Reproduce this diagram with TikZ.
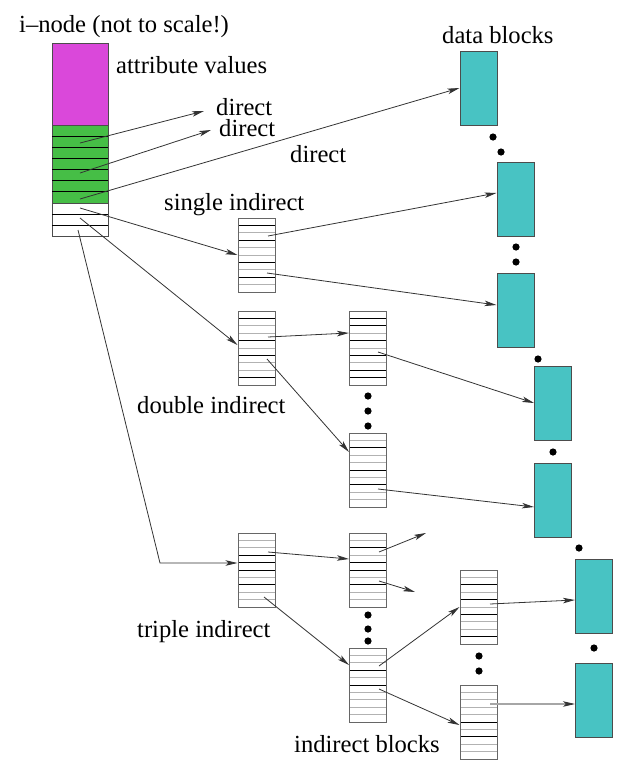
\documentclass[tikz,border=0pt]{standalone}
\usepackage{fontspec}
\setmainfont{Liberation Serif}
\usetikzlibrary{arrows.meta,calc,positioning}
\definecolor{attrcol}{RGB}{218,72,218}
\definecolor{dircol}{RGB}{70,190,70}
\definecolor{blkcol}{RGB}{72,195,195}

\begin{document}
\begin{tikzpicture}[x=1pt, y=-1pt, >={Stealth[length=12pt,width=5.5pt,inset=3pt]}, font=\fontsize{24.6}{28}\selectfont]
		\useasboundingbox (0,0) rectangle (644,774);
		\tikzstyle{dk}=[draw=black]
		\tikzstyle{lt}=[draw=black!30]
		\tikzstyle{label}=[anchor=base west, inner sep=0pt]
		\tikzstyle{slot}=[rectangle, draw=black!70, line width=1pt, minimum width=56pt, inner sep=0pt, outer sep=0pt]
		\tikzstyle{data}=[rectangle, draw=black!70, fill=blkcol, line width=1pt, minimum width=37pt, minimum height=74pt, inner sep=0pt]
		\tikzstyle{connect}=[->, draw=black!80, line width=0.8pt]
		\tikzset{ind/.style={rectangle, draw=black!60, line width=1pt, minimum width=37pt, minimum height=74pt, inner sep=0pt,
			path picture={\foreach \c [count=\i] in {#1}
				\draw[\c, line width=1pt] ($(path picture bounding box.north west)!{\i/10}!(path picture bounding box.south west)$) -- ($(path picture bounding box.north east)!{\i/10}!(path picture bounding box.south east)$);}}}
		% i-node
		\node[label] (title) at (19,32) {i--node (not to scale!)};
		\node[slot, fill=attrcol, minimum height=82pt] (attr) at (80,84) {};
		\node[slot, fill=dircol, minimum height=78pt, below=0pt of attr] (dirs) {};
		\node[slot, fill=white, minimum height=33pt, below=0pt of dirs] (inds) {};
		\foreach \i in {1,...,6}
			\draw[line width=1pt] ($(dirs.north west)!{\i/7}!(dirs.south west)$) -- ($(dirs.north east)!{\i/7}!(dirs.south east)$);
		\foreach \i in {1,2}
			\draw[line width=1pt] ($(inds.north west)!{\i/3}!(inds.south west)$) -- ($(inds.north east)!{\i/3}!(inds.south east)$);
		\node[label] (attrlbl) at (116,73) {attribute values};
		\node[label] (dir1) at (216,115) {direct};
		\node[label] (dir2) at (219,136) {direct};
		\node[label] (dir3) at (290,162) {direct};
		\node[label] (sgllbl) at (164,210) {single indirect};
		\node[label] (dbllbl) at (137,413) {double indirect};
		\node[label] (tpllbl) at (137,637) {triple indirect};
		\node[label] (indlbl) at (294,752) {indirect blocks};
		\node[label] (datalbl) at (442,43) {data blocks};
		% data blocks
		\node[data] (blk1) at (478.5,88) {};
		\node[data] (blk2) at (515.5,199.5) {};
		\node[data] (blk3) at (515.5,310.5) {};
		\node[data] (blk4) at (553,403) {};
		\node[data] (blk5) at (553,500) {};
		\node[data] (blk6) at (594,596.5) {};
		\node[data] (blk7) at (594,700) {};
		% indirect blocks
		\node[ind={dk,lt,dk,lt,lt,dk,lt,dk,lt}] (sgl) at (256.5,255) {};
		\node[ind={dk,lt,lt,dk,lt,dk,lt,lt,dk}] (dbl) at (256.5,348) {};
		\node[ind={dk,dk,lt,dk,lt,dk,lt,dk,dk}] (dblA) at (368,348) {};
		\node[ind={lt,dk,lt,lt,dk,lt,dk,lt,lt}] (dblB) at (368,470) {};
		\node[ind={lt,lt,dk,dk,dk,lt,dk,lt,lt}] (tpl) at (256.5,570) {};
		\node[ind={lt,dk,lt,dk,dk,lt,dk,lt,lt}] (tplE) at (368,570) {};
		\node[ind={lt,lt,dk,lt,dk,lt,lt,lt,lt}] (tplF) at (368,685) {};
		\node[ind={lt,dk,lt,dk,lt,dk,lt,lt,dk}] (tplC) at (478.5,607) {};
		\node[ind={lt,lt,lt,lt,dk,lt,dk,lt,lt}] (tplD) at (478.5,722) {};
		% free ends
		\coordinate (d1tip) at (204,111);
		\coordinate (d2tip) at (211,130);
		\coordinate (tbend) at (160,563);
		\coordinate (e1tip) at (426,533);
		\coordinate (e2tip) at (415,592);
		% dots
		\foreach \p in {(493,137),(501,152),(516,247),(516,262),(538,359),(553,452),(579,548),(594,648),
			(368,396),(368,411),(368,426),(368,615),(368,629),(368,641),(479,656),(479,671)}
			\fill \p circle (3.6pt);
		\path
		([yshift=-18pt]dirs.north) edge [connect] (d1tip)
		([yshift=-48pt]dirs.north) edge [connect] (d2tip)
		([yshift=4pt]dirs.south) edge [connect] (blk1.west)
		([yshift=-5pt]inds.north) edge [connect] (sgl.west)
		([yshift=-15pt]inds.north) edge [connect] ([yshift=3pt]dbl.west)
		([xshift=11.5pt,yshift=19pt]sgl.center) edge [connect] ([yshift=6.5pt]blk2.west)
		([xshift=10.5pt,yshift=-18pt]sgl.center) edge [connect] ([yshift=5.5pt]blk3.west)
		([xshift=11.5pt,yshift=11pt]dbl.center) edge [connect] ([yshift=15pt]dblA.west)
		([xshift=10.5pt,yshift=-11pt]dbl.center) edge [connect] ([yshift=18pt]dblB.west)
		([xshift=10pt,yshift=-4pt]dblA.center) edge [connect] (blk4.west)
		([xshift=10pt,yshift=-19pt]dblB.center) edge [connect] ([yshift=-7pt]blk5.west)
		([xshift=11.5pt,yshift=18pt]tpl.center) edge [connect] ([yshift=11pt]tplE.west)
		([xshift=7.5pt,yshift=-27pt]tpl.center) edge [connect] ([yshift=20pt]tplF.west)
		([xshift=11pt,yshift=18pt]tplE.center) edge [connect] (e1tip)
		([xshift=11pt,yshift=-11pt]tplE.center) edge [connect] (e2tip)
		([xshift=11pt,yshift=19pt]tplF.center) edge [connect] (tplC.west)
		([xshift=11pt,yshift=-4pt]tplF.center) edge [connect] ([yshift=-3pt]tplD.west)
		([xshift=11.5pt,yshift=3pt]tplC.center) edge [connect] ([yshift=-3.5pt]blk6.west)
		([xshift=11.5pt,yshift=18pt]tplD.center) edge [connect, draw=black!35, line width=1.5pt, -{Stealth[length=12pt,width=5.5pt,inset=3pt,black!80,line width=0.8pt]}] ([yshift=-4pt]blk7.west)
		;
		\draw[connect] ([xshift=-2pt,yshift=-27pt]inds.north) -- (tbend) -- ([yshift=7pt]tpl.west);
	\end{tikzpicture}
\end{document}
